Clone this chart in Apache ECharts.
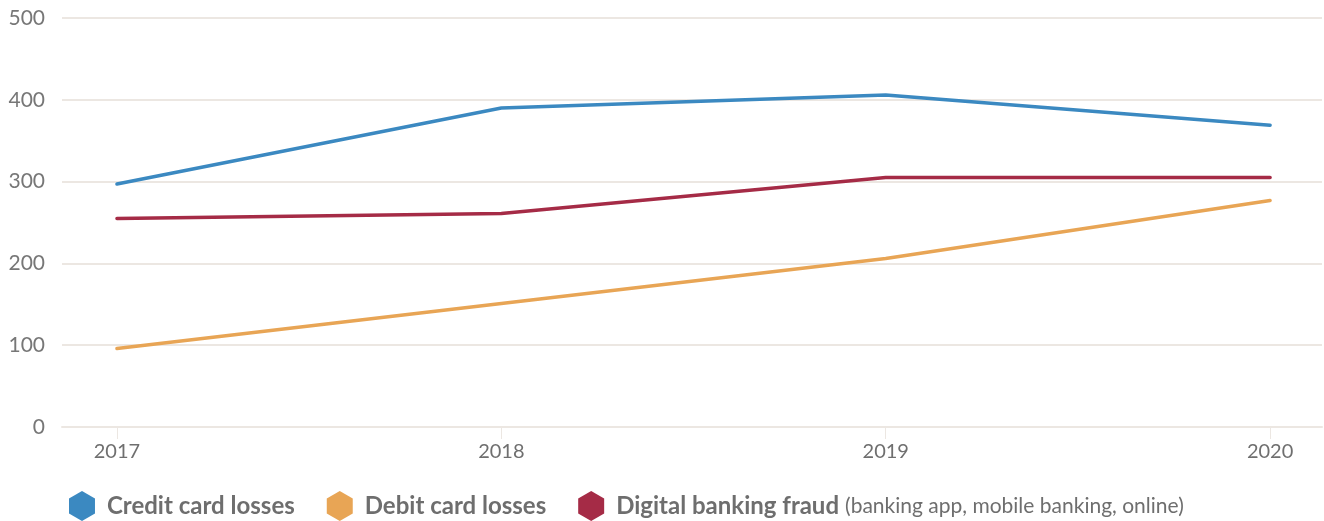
<!DOCTYPE html>
<html>
<head>
<meta charset="utf-8">
<title>Card and digital banking losses</title>
<script src="https://cdn.jsdelivr.net/npm/echarts@6/dist/echarts.min.js"></script>
<style>
  html, body { margin: 0; padding: 0; background: #ffffff; }
  #chart { width: 1324px; height: 521px; }
</style>
</head>
<body>
<div id="chart"></div>
<script>
// Years on the horizontal axis
const years = [2017, 2018, 2019, 2020];

// Losses per year
const creditCardLosses = [297, 390, 406, 369];
const debitCardLosses = [96, 151, 206, 277];
const digitalBankingFraud = [255, 261, 305, 305];

// Vertical axis ticks
const yTicks = [0, 100, 200, 300, 400, 500];

// Series names and the note shown after the third one
const seriesNames = ['Credit card losses', 'Debit card losses', 'Digital banking fraud'];
const digitalNote = '(banking app, mobile banking, online)';

const colors = ['#3b89c1', '#e8a555', '#a52b46'];
const hexagon = 'path://M50 0 L93.3 25 L93.3 75 L50 100 L6.7 75 L6.7 25 Z';

const chart = echarts.init(document.getElementById('chart'));

function toPairs(values) {
  return years.map((y, i) => [y, values[i]]);
}

const seriesData = [creditCardLosses, debitCardLosses, digitalBankingFraud];

chart.setOption({
  animation: false,
  textStyle: { fontFamily: 'Lato' },
  grid: { left: 62, right: 2, top: 18, bottom: 94, containLabel: false },
  xAxis: {
    type: 'value',
    min: 2016.857,
    max: 2020.135,
    axisLine: { show: true, lineStyle: { color: '#ece7e2', width: 2 } },
    axisTick: {
      show: true,
      customValues: years,
      length: 12,
      lineStyle: { color: '#ece7e2', width: 1 }
    },
    axisLabel: {
      customValues: years,
      formatter: v => String(v),
      color: '#6f6f6f',
      fontSize: 20,
      margin: 15
    },
    splitLine: { show: false }
  },
  yAxis: {
    type: 'value',
    min: yTicks[0],
    max: yTicks[yTicks.length - 1],
    interval: 100,
    axisLine: { show: false },
    axisTick: { show: false },
    axisLabel: { color: '#777777', fontSize: 21, margin: 17 },
    splitLine: { lineStyle: { color: '#ece7e2', width: 2 } }
  },
  legend: {
    top: 486,
    left: 64,
    icon: hexagon,
    itemWidth: 28,
    itemHeight: 30,
    itemGap: 32,
    data: seriesNames,
    formatter: name => name === seriesNames[2]
      ? '{b|' + name + '}{n|' + digitalNote + '}'
      : '{b|' + name + '}',
    textStyle: {
      padding: [0, 0, 0, 6],
      rich: {
        b: { fontFamily: 'Lato', fontWeight: 'bold', fontSize: 24, color: '#6e6e6e' },
        n: { fontFamily: 'Lato', fontSize: 21, color: '#6e6e6e', padding: [0, 0, 0, 6] }
      }
    }
  },
  series: seriesNames.map((name, i) => ({
    name: name,
    type: 'line',
    data: toPairs(seriesData[i]),
    showSymbol: false,
    symbol: 'none',
    color: colors[i],
    lineStyle: { width: 3.5, color: colors[i], cap: 'round', join: 'round' }
  }))
});
</script>
</body>
</html>
